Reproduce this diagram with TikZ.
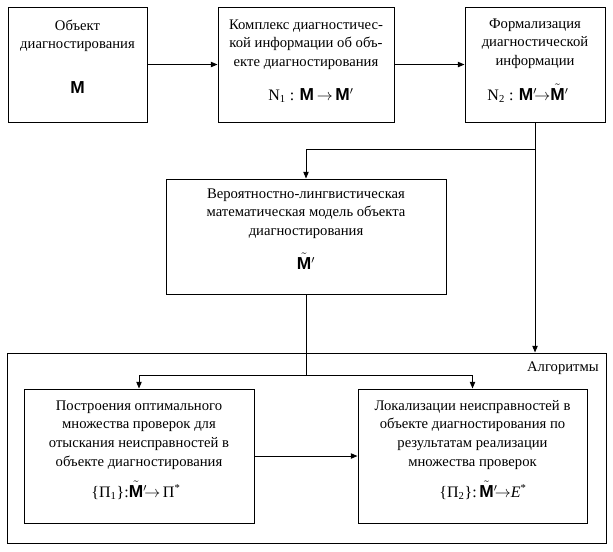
\documentclass[tikz,border=0pt]{standalone}
\usepackage{fontspec}
\setmainfont{Liberation Serif}
\newfontfamily\ssfam{Liberation Sans}
\usetikzlibrary{arrows.meta}
\newcommand\BM{{\ssfam\bfseries\fontsize{13}{13}\selectfont M}}
\newcommand\BMp{\BM$'$}
\newcommand\TM{\ensuremath{\tilde{\hbox{\BM}}}}
\newcommand\TMp{\TM$'$}
\newcommand\ml[1]{\begin{tabular}[t]{@{}c@{}}#1\end{tabular}}
\begin{document}
\begin{tikzpicture}[x=0.75pt,y=-0.75pt,
  lbl/.style={anchor=base,inner sep=0pt,font=\fontsize{11}{14}\selectfont},
  frm/.style={anchor=base,inner sep=0pt,font=\fontsize{12}{14}\selectfont},
  con/.style={line width=0.75pt},
  arr/.style={con,-{Triangle[length=5pt,width=4pt]}}]
\useasboundingbox (0,0) rectangle (613,551);
% boxes
\node[draw,line width=0.75pt,minimum width=139*0.75pt,minimum height=115*0.75pt,inner sep=0pt] (A) at (77.5,64.5) {};
\node[draw,line width=0.75pt,minimum width=176*0.75pt,minimum height=115*0.75pt,inner sep=0pt] (B) at (306,64.5) {};
\node[draw,line width=0.75pt,minimum width=140*0.75pt,minimum height=115*0.75pt,inner sep=0pt] (C) at (535,64.5) {};
\node[draw,line width=0.75pt,minimum width=280*0.75pt,minimum height=115*0.75pt,inner sep=0pt] (D) at (306,236.5) {};
\node[draw,line width=0.75pt,minimum width=599*0.75pt,minimum height=190*0.75pt,inner sep=0pt] (G) at (306.5,448) {};
\node[draw,line width=0.75pt,minimum width=230*0.75pt,minimum height=134*0.75pt,inner sep=0pt] (E) at (139,456) {};
\node[draw,line width=0.75pt,minimum width=229*0.75pt,minimum height=134*0.75pt,inner sep=0pt] (F) at (472.5,456) {};
% texts
\node[lbl] (tA) at (77.5,30) {\ml{Объект\\диагностирования}};
\node[frm] (fA) at (77.5,93) {\BM};
\node[lbl] (tB) at (306,29) {\ml{Комплекс диагностичес-\\кой информации об объ-\\екте диагностирования}};
\node[frm] (fB) at (311,100) {N\textsubscript{1} : \BM\,$\rightarrow$\,\BMp};
\node[lbl] (tC) at (535,28) {\ml{Формализация\\диагностической\\информации}};
\node[frm] (fC) at (528,100) {N\textsubscript{2} : \BMp$\!\rightarrow$\TMp};
\node[lbl] (tD) at (306,198) {\ml{Вероятностно-лингвистическая\\математическая модель объекта\\диагностирования}};
\node[frm] (fD) at (306,269) {\TMp};
\node[lbl] (tE) at (139,410) {\ml{Построения оптимального\\множества проверок для\\отыскания неисправностей в\\объекте диагностирования}};
\node[frm] (fE) at (136,497) {\{Π\textsubscript{1}\}:\TMp$\!\rightarrow$\,Π\textsuperscript{*}};
\node[lbl] (tF) at (472.5,410) {\ml{Локализации неисправностей в\\объекте диагностирования по\\результатам реализации\\множества проверок}};
\node[frm] (fF) at (483,497) {\{Π\textsubscript{2}\}:\,\TMp$\!\rightarrow$\textit{E}\textsuperscript{*}};
\node[lbl,anchor=base east] (tG) at (599,371) {Алгоритмы};
% connectors
\coordinate (j1) at (306,375);
\draw[arr] (A.east) -- (B.west);
\draw[arr] (B.east) -- (C.west);
\draw[arr] (C.south) |- (306,149) -- (D.north);
\draw[arr] (C.south) -- (C.south |- G.north);
\draw[con] (D.south) -- (j1);
\draw[arr] (j1) -| (E.north);
\draw[arr] (j1) -| (F.north);
\draw[arr] (E.east) -- (F.west);
\end{tikzpicture}
\end{document}
